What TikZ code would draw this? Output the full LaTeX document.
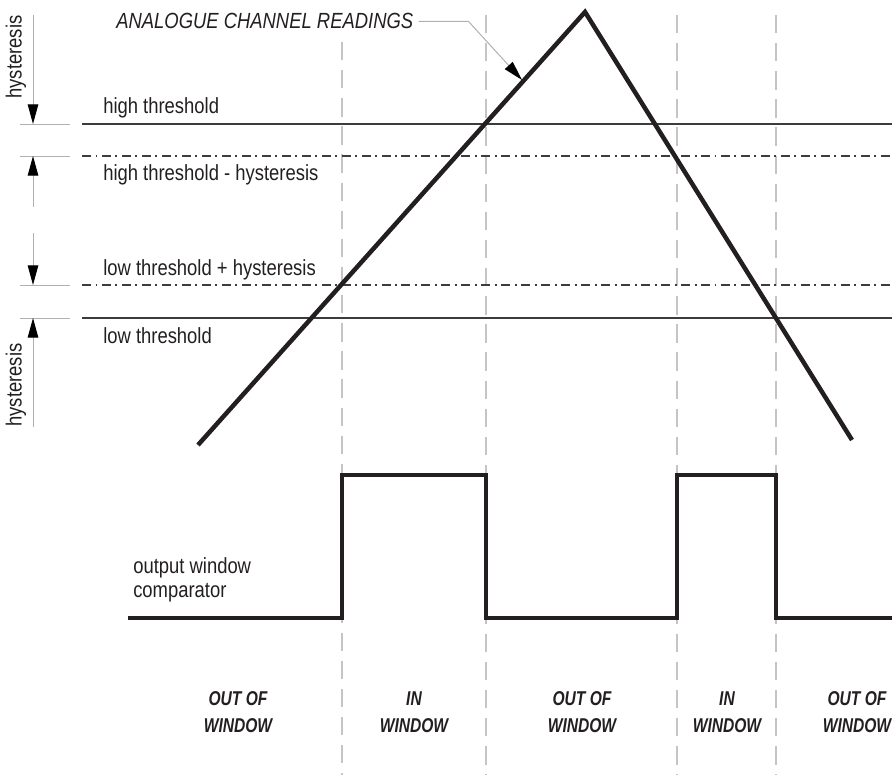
\documentclass[tikz,border=0pt]{standalone}
\usepackage{fontspec}
\setmainfont[FakeStretch=0.84]{Liberation Sans}
\newfontfamily\windowfont[FakeStretch=0.78]{Liberation Sans}
\usepackage{tikz}
\usetikzlibrary{arrows.meta,positioning,calc}
\definecolor{TraceBlack}{HTML}{231F20}
\definecolor{LevelGray}{HTML}{3C3C3C}
\definecolor{GuideGray}{HTML}{C4C4C4}
\definecolor{DimGray}{HTML}{B0B0B0}
\tikzset{
    % Threshold level
    thresholdline/.style={
        line width=1.4pt,
        draw=LevelGray
    },
    % Threshold level shifted by hysteresis
    hystline/.style={
        thresholdline,
        dash pattern=on 6.4pt off 3.2pt on 1.4pt off 3.2pt
    },
    % Analogue readings
    signaltrace/.style={
        line width=3.2pt,
        draw=TraceBlack,
        line join=miter
    },
    % Comparator output
    outputtrace/.style={
        line width=2.4pt,
        draw=TraceBlack
    },
    % Window border
    windowedge/.style={
        line width=1pt,
        draw=GuideGray,
        dash pattern=on 13pt off 7pt
    },
    % Dimension line
    dimline/.style={
        line width=0.7pt,
        draw=DimGray
    },
    % Dimension arrow
    dimarrow/.style={
        dimline,
        -{Triangle[length=14pt,width=7.5pt,color=black]}
    },
    % Level label
    levellabel/.style={
        anchor=base west,
        inner sep=0pt,
        text=TraceBlack,
        font=\fontsize{15.6}{18}\selectfont
    },
    % Window label
    windowlabel/.style={
        align=center,
        inner sep=0pt,
        text=TraceBlack,
        font=\windowfont\fontsize{14.2}{19.5}\selectfont\bfseries\itshape
    }
}

\begin{document}
\begin{tikzpicture}[x=0.025cm, y=-0.025cm]
    \useasboundingbox (0,0) rectangle (892,775);

    % window borders
    \draw[windowedge] (342,42) -- (342,775);
    \foreach \xw in {486,677,776}
        \draw[windowedge] (\xw,15) -- (\xw,775);

    % levels
    \draw[thresholdline] (82,124) -- (892,124);
    \draw[hystline] (82,156) -- (892,156);
    \draw[hystline] (82,285) -- (892,285);
    \draw[thresholdline] (82,318) -- (892,318);
    \foreach \yl in {124,156,285,318}
        \draw[dimline] (20,\yl) -- (70,\yl);

    \node[levellabel] (high) at (103,113) {high threshold};
    \node[levellabel] (highhyst) at (103,180) {high threshold - hysteresis};
    \node[levellabel] (lowhyst) at (103,275) {low threshold + hysteresis};
    \node[levellabel] (low) at (103,343) {low threshold};

    % hysteresis dimensions
    \draw[dimarrow] (33,15) -- (33,124);
    \draw[dimarrow] (33,207) -- (33,156);
    \draw[dimarrow] (33,233) -- (33,285);
    \draw[dimarrow] (33,427) -- (33,318);
    \node[levellabel, anchor=center, rotate=90] (hysttop) at (16,57) {hysteresis};
    \node[levellabel, anchor=center, rotate=90] (hystbot) at (16,385) {hysteresis};

    % analogue readings
    \coordinate (rampstart) at (198,445);
    \coordinate (peak) at (585,12);
    \coordinate (rampend) at (852,440);
    \draw[signaltrace] (rampstart) -- (peak) -- (rampend);

    \node[levellabel, font=\fontsize{15.6}{18}\selectfont\itshape] (readings) at (116,29) {ANALOGUE CHANNEL READINGS};
    \coordinate (hit) at (522,80);
    \draw[dimarrow] (readings.east) ++(5,0) -- ++(50,0) -- (hit);

    % comparator output
    \draw[outputtrace] (128,618) -- (342,618) -- (342,475) -- (486,475) -- (486,618)
        -- (677,618) -- (677,475) -- (776,475) -- (776,618) -- (892,618);
    \node[levellabel] (output) at (133,573) {output window};
    \node[levellabel] (comparator) at (133,597) {comparator};

    % windows
    \node[windowlabel] (out1) at (238,712) {OUT OF\\WINDOW};
    \node[windowlabel] (in1) at (414,712) {IN\\WINDOW};
    \node[windowlabel] (out2) at (582,712) {OUT OF\\WINDOW};
    \node[windowlabel] (in2) at (727,712) {IN\\WINDOW};
    \node[windowlabel] (out3) at (857,712) {OUT OF\\WINDOW};
\end{tikzpicture}
\end{document}
